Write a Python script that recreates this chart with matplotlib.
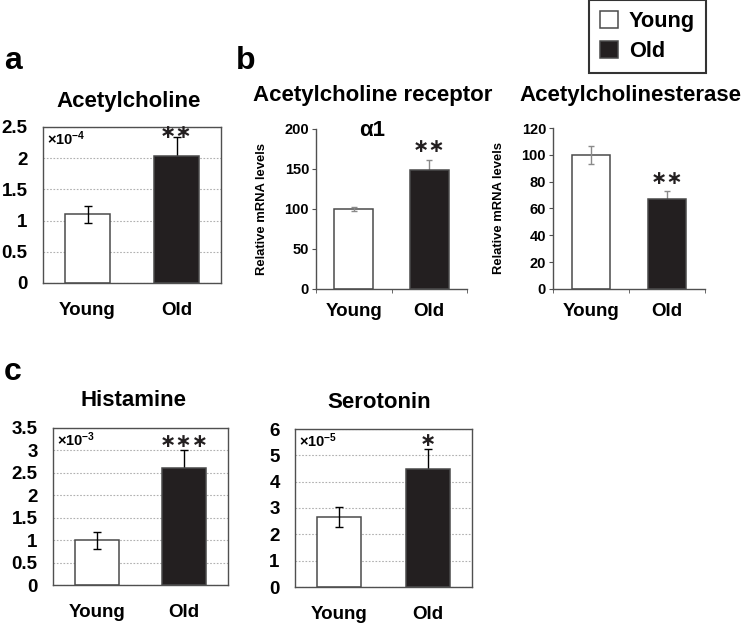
import matplotlib
matplotlib.use("Agg")
import matplotlib.pyplot as plt
from matplotlib.patches import Patch

plt.rcParams['font.family'] = ['Liberation Sans', 'DejaVu Sans']
plt.rcParams['font.weight'] = 'bold'
plt.rcParams['mathtext.fontset'] = 'custom'
plt.rcParams['mathtext.rm'] = 'Liberation Sans'
plt.rcParams['mathtext.bf'] = 'Liberation Sans:bold'

# ---------------- data ----------------
groups = ["Young", "Old"]

ach_vals = [1.10, 2.04]
ach_err = [0.14, 0.30]
ach_ticks = [0, 0.5, 1, 1.5, 2, 2.5]
ach_ticklabels = ["0", "0.5", "1", "1.5", "2", "2.5"]

achr_vals = [100, 149]
achr_err = [2.5, 12]
achr_ticks = [0, 50, 100, 150, 200]

ache_vals = [100, 67]
ache_err = [6.5, 6]
ache_ticks = [0, 20, 40, 60, 80, 100, 120]

his_vals = [1.0, 2.6]
his_err = [0.19, 0.40]
his_ticks = [0, 0.5, 1, 1.5, 2, 2.5, 3, 3.5]
his_ticklabels = ["0", "0.5", "1", "1.5", "2", "2.5", "3", "3.5"]

ser_vals = [2.66, 4.48]
ser_err = [0.37, 0.77]
ser_ticks = [0, 1, 2, 3, 4, 5, 6]
ser_ticklabels = ["0", "1", "2", "3", "4", "5", "6"]

W, H = 744, 626
fig = plt.figure(figsize=(W / 100, H / 100), dpi=100)

def rect(l, t, r, b):
    return [l / W, 1 - b / H, (r - l) / W, (b - t) / H]

def ftext(x, y, s, **kw):
    fig.text(x / W, 1 - y / H, s, **kw)

FACE = ["white", "#231f20"]
EDGE = "#4a4a4a"

def draw_bars(ax, vals, errs, width, ecolor, capsize):
    xs = list(range(len(vals)))
    ax.bar(xs, vals, width=width, color=FACE, edgecolor=EDGE, linewidth=1.1, zorder=2)
    # young error bar on top, old error bar behind its bar
    ax.errorbar(xs[0], vals[0], yerr=errs[0], color=ecolor, capsize=capsize,
                elinewidth=1.0, capthick=1.0, zorder=3)
    ax.errorbar(xs[1], vals[1], yerr=errs[1], color=ecolor, capsize=capsize,
                elinewidth=1.0, capthick=1.0, zorder=1)
    ax.set_xlim(-0.5, 1.5)
    ax.set_xticks(xs)
    ax.set_xticklabels(groups)

def stars(ax, vals, errs, s, off_px):
    ax.annotate(s, xy=(1, vals[1] + errs[1]), xytext=(0, off_px * 0.72),
                textcoords="offset points", ha="center", va="center",
                fontsize=14, family="DejaVu Sans", fontweight="bold",
                color="#231f20", zorder=5)

def boxed_style(ax, ticks, labels, ylim, mult):
    ax.set_ylim(*ylim)
    ax.set_yticks(ticks)
    ax.set_yticklabels(labels)
    ax.yaxis.grid(True, linestyle=(0, (1.5, 1.5)), color="#b0b0b0", linewidth=0.8, zorder=0)
    ax.set_axisbelow(True)
    for sp in ax.spines.values():
        sp.set_color("#505050")
        sp.set_linewidth(1.0)
    ax.tick_params(axis="y", length=0, pad=11, labelsize=13.5)
    ax.tick_params(axis="x", length=0, pad=14, labelsize=13.5)
    ax.text(0.022, 0.925, mult, transform=ax.transAxes, ha="left", va="center",
            fontsize=10.5, zorder=5)

def open_style(ax, ticks, ylim, xlab_pad):
    ax.set_ylim(*ylim)
    ax.set_yticks(ticks)
    for s in ["top", "right"]:
        ax.spines[s].set_visible(False)
    for s in ["left", "bottom"]:
        ax.spines[s].set_color("#505050")
        ax.spines[s].set_linewidth(1.0)
    ax.tick_params(axis="y", length=3, direction="out", color="#505050", pad=2, labelsize=10.5)
    ax.tick_params(axis="x", which="major", length=0, pad=xlab_pad, labelsize=13.5)
    ax.set_xticks([-0.5, 0.5, 1.5], minor=True)
    ax.tick_params(axis="x", which="minor", length=3, direction="out", color="#505050")
    ax.set_ylabel("Relative mRNA levels", fontsize=9.4, fontweight="bold")

# ---------------- panel a ----------------
axa = fig.add_axes(rect(43, 127, 221, 283))
draw_bars(axa, ach_vals, ach_err, 0.51, "black", 3)
boxed_style(axa, ach_ticks, ach_ticklabels, (0, 2.5), r"$\times\mathbf{10^{-4}}$")
stars(axa, ach_vals, ach_err, "∗∗", 4)

# ---------------- panel b1 ----------------
axb1 = fig.add_axes(rect(316, 129, 467, 289))
draw_bars(axb1, achr_vals, achr_err, 0.51, "#8a8a8a", 2.5)
open_style(axb1, achr_ticks, (0, 200), 10)
axb1.yaxis.set_label_coords(-48 / 151, 0.5)
stars(axb1, achr_vals, achr_err, "∗∗", 14)

# ---------------- panel b2 ----------------
axb2 = fig.add_axes(rect(553, 128, 705, 289))
draw_bars(axb2, ache_vals, ache_err, 0.51, "#8a8a8a", 2.5)
open_style(axb2, ache_ticks, (0, 120), 10)
axb2.yaxis.set_label_coords(-48 / 152, 0.5)
stars(axb2, ache_vals, ache_err, "∗∗", 13)

# ---------------- panel c1 ----------------
axc1 = fig.add_axes(rect(53, 428, 228, 585))
draw_bars(axc1, his_vals, his_err, 0.50, "black", 3)
boxed_style(axc1, his_ticks, his_ticklabels, (0, 3.5), r"$\times\mathbf{10^{-3}}$")
stars(axc1, his_vals, his_err, "∗∗∗", 9)

# ---------------- panel c2 ----------------
axc2 = fig.add_axes(rect(295, 429, 472, 587))
draw_bars(axc2, ser_vals, ser_err, 0.50, "black", 3)
boxed_style(axc2, ser_ticks, ser_ticklabels, (0, 6), r"$\times\mathbf{10^{-5}}$")
stars(axc2, ser_vals, ser_err, "∗", 8)

# ---------------- titles & panel labels ----------------
ftext(128.5, 101, "Acetylcholine", ha="center", va="center", fontsize=16)
ftext(373, 95, "Acetylcholine receptor", ha="center", va="center", fontsize=16)
ftext(372, 130, "α1", ha="center", va="center", fontsize=16)
ftext(630, 95, "Acetylcholinesterase", ha="center", va="center", fontsize=16)
ftext(133, 401, "Histamine", ha="center", va="center", fontsize=16)
ftext(379.5, 403, "Serotonin", ha="center", va="center", fontsize=16)

ftext(4, 69, "a", ha="left", va="baseline", fontsize=23)
ftext(236, 69, "b", ha="left", va="baseline", fontsize=23)
ftext(4, 380, "c", ha="left", va="baseline", fontsize=23)

# ---------------- legend ----------------
handles = [Patch(facecolor=FACE[0], edgecolor=EDGE, linewidth=1.1, label=groups[0]),
           Patch(facecolor=FACE[1], edgecolor=EDGE, linewidth=1.1, label=groups[1])]
leg = fig.legend(handles=handles, loc="upper left", bbox_to_anchor=(589 / W, 1.0),
                 borderaxespad=0, fontsize=15.7, frameon=True, fancybox=False,
                 edgecolor="black", handlelength=0.83, handleheight=0.83,
                 handletextpad=0.5, labelspacing=0.42, borderpad=0.5)
leg.get_frame().set_linewidth(1.5)
for t in leg.get_texts():
    t.set_fontweight("bold")

fig.savefig("out.png", dpi=100)
